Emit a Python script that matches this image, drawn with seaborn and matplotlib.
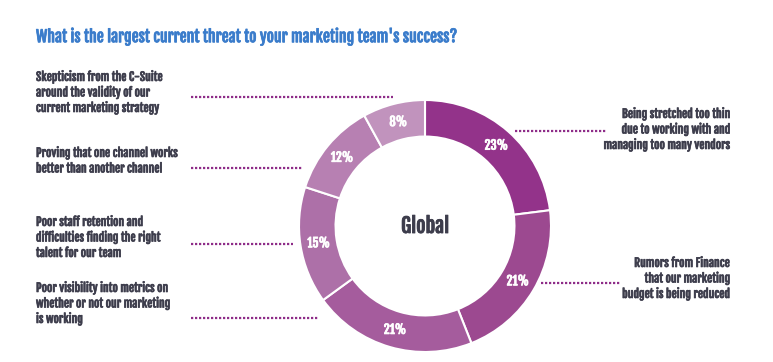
import matplotlib
matplotlib.use("Agg")
import matplotlib.pyplot as plt
import matplotlib.patheffects as pe
import seaborn as sns

TITLE = "What is the largest current threat to your marketing team's success?"
CENTER_LABEL = "Global"

# clockwise from 12 o'clock
threats = [
    "Being stretched too thin\ndue to working with and\nmanaging too many vendors",
    "Rumors from Finance\nthat our marketing\nbudget is being reduced",
    "Poor visibility into metrics on\nwhether or not our marketing\nis working",
    "Poor staff retention and\ndifficulties finding the right\ntalent for our team",
    "Proving that one channel works\nbetter than another channel",
    "Skepticism from the C-Suite\naround the validity of our\ncurrent marketing strategy",
]
shares = [23, 21, 21, 15, 12, 8]
slice_colors = ["#93338a", "#9c4990", "#a55c9d", "#ad70a8", "#b780b2", "#c193bd"]

# label placement (figure pixels from top-left): text x, first line y, line x0, line x1, line y, align
label_layout = [
    (730, 116, 515, 607, 131, "right"),
    (730, 265, 541, 620, 283, "right"),
    (36, 290, 191, 319, 318, "left"),
    (36, 224, 191, 293, 244, "left"),
    (36, 155, 191, 303, 168, "left"),
    (36, 79, 191, 393, 97, "left"),
]

sns.set_style("white")
plt.rcParams["font.family"] = ["Fjalla One", "DejaVu Sans"]

W, H = 773, 362
fig = plt.figure(figsize=(W / 100, H / 100), dpi=100)
palette = sns.color_palette(slice_colors)
text_color = "#3d3d4c"


def heavy(color, lw=0.45):
    return [pe.withStroke(linewidth=lw, foreground=color)]


cx, cy, R = 425, 226, 126
half = 130
ax = fig.add_axes([(cx - half) / W, (H - cy - half) / H, 2 * half / W, 2 * half / H])
wedges, texts, autotexts = ax.pie(
    shares, colors=palette, startangle=90, counterclock=False, radius=1,
    autopct=lambda p: f"{p:.0f}%", pctdistance=0.855,
    wedgeprops=dict(width=0.29, edgecolor="white", linewidth=1.5),
    textprops=dict(color="white", fontsize=9, path_effects=heavy("white", 0.5)),
)
ax.set_xlim(-half / R, half / R)
ax.set_ylim(-half / R, half / R)
ax.set_aspect("equal")
ax.axis("off")
ax.text(0, 0, CENTER_LABEL, ha="center", va="center", fontsize=14.5,
        color=text_color, path_effects=heavy(text_color, 0.6))

line_color = "#8e2c88"
for label, (tx, ty, x0, x1, ly, al) in zip(threats, label_layout):
    fig.text(tx / W, 1 - (ty - 8) / H, label, ha=al, va="top", fontsize=8.35,
             color=text_color, linespacing=1.25, multialignment=al,
             path_effects=heavy(text_color))
    fig.add_artist(plt.Line2D([x0 / W, x1 / W], [1 - ly / H, 1 - ly / H],
                              transform=fig.transFigure, color=line_color,
                              linewidth=1.6, linestyle=(0, (1, 0.8))))

fig.text(36 / W, 1 - 37 / H, TITLE, ha="left", va="center", fontsize=11.3,
         color="#3a7ccb", path_effects=heavy("#3a7ccb", 0.5))

fig.savefig("out.png", dpi=100, facecolor="white")
